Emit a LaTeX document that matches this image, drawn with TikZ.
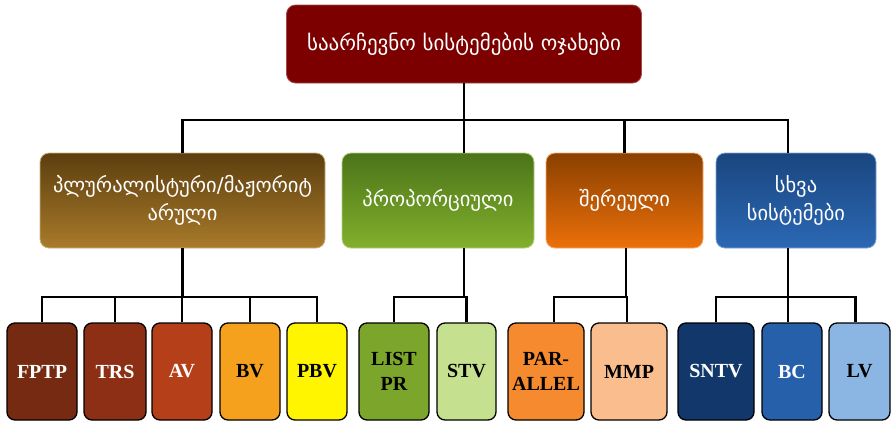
\documentclass[tikz,border=0pt]{standalone}
\usepackage{fontspec}
\setmainfont{Liberation Serif}
\newfontfamily\geofont{DejaVu Sans}
\usetikzlibrary{positioning}
\definecolor{famred}{HTML}{7C0000}
\definecolor{plurtop}{HTML}{5C3E0E}
\definecolor{plurbot}{HTML}{A97B2B}
\definecolor{proptop}{HTML}{4B7419}
\definecolor{propbot}{HTML}{82B02C}
\definecolor{mixtop}{HTML}{8A4000}
\definecolor{mixbot}{HTML}{EC700A}
\definecolor{othtop}{HTML}{1A467F}
\definecolor{othbot}{HTML}{2B68B4}
\definecolor{cfptp}{HTML}{772A12}
\definecolor{ctrs}{HTML}{8C2F15}
\definecolor{cav}{HTML}{B43F18}
\definecolor{cbv}{HTML}{F6A11E}
\definecolor{cpbv}{HTML}{FFF500}
\definecolor{clist}{HTML}{7CA52C}
\definecolor{cstv}{HTML}{C5E08E}
\definecolor{cpar}{HTML}{F58A2F}
\definecolor{cmmp}{HTML}{FABE8E}
\definecolor{csntv}{HTML}{12376A}
\definecolor{cbc}{HTML}{2660AB}
\definecolor{clv}{HTML}{8BB5E3}
\tikzset{topblock/.style={fill=famred,draw=famred!70!white,line width=0.8pt,rounded corners=9pt,
           minimum width=355pt,minimum height=78pt,text=white,font=\geofont\fontsize{21}{25}\selectfont},
         famblock/.style={rounded corners=9pt,line width=0.8pt,minimum height=95pt,text=white,
           align=center,font=\geofont\fontsize{20.5}{28}\selectfont},
         leaf/.style={draw=black,line width=1.3pt,rounded corners=8pt,minimum height=97pt,
           align=center,font=\bfseries\fontsize{20}{25}\selectfont},
         line/.style={line width=2.2pt,black}
}
\begin{document}
\begin{tikzpicture}[x=1pt,y=-1pt]
\useasboundingbox (0,0) rectangle (892,421);

\node[topblock] (fam) at (464,44) {საარჩევნო სისტემების ოჯახები};

\node[famblock,top color=plurtop,bottom color=plurbot,draw=plurbot!60!white,minimum width=285pt] (plural) at (182.5,200.5) {პლურალისტური/მაჟორიტ\\არული};
\node[famblock,top color=proptop,bottom color=propbot,draw=propbot!60!white,minimum width=192pt] (propor) at (438,200.5) {პროპორციული};
\node[famblock,top color=mixtop,bottom color=mixbot,draw=mixbot!60!white,minimum width=157pt] (mixed) at (624.5,200.5) {შერეული};
\node[famblock,top color=othtop,bottom color=othbot,draw=othbot!60!white,minimum width=160pt] (other) at (796,200.5) {სხვა\\სისტემები};

\node[leaf,fill=cfptp,text=white,minimum width=70pt] (fptp) at (42,371.5) {FPTP};
\node[leaf,fill=ctrs,text=white,minimum width=62pt] (trs) at (115,371.5) {TRS};
\node[leaf,fill=cav,text=white,minimum width=60pt] (av) at (182,371.5) {AV};
\node[leaf,fill=cbv,minimum width=60pt] (bv) at (250,371.5) {BV};
\node[leaf,fill=cpbv,minimum width=60pt] (pbv) at (317,371.5) {PBV};
\node[leaf,fill=clist,minimum width=70pt] (listpr) at (394,371.5) {LIST\\PR};
\node[leaf,fill=cstv,minimum width=59pt] (stv) at (466.5,371.5) {STV};
\node[leaf,fill=cpar,minimum width=76pt] (parallel) at (546,371.5) {PAR-\\ALLEL};
\node[leaf,fill=cmmp,minimum width=76pt] (mmp) at (629,371.5) {MMP};
\node[leaf,fill=csntv,text=white,minimum width=76pt] (sntv) at (716,371.5) {SNTV};
\node[leaf,fill=cbc,text=white,minimum width=60pt] (bc) at (792,371.5) {BC};
\node[leaf,fill=clv,minimum width=61pt] (lv) at (859.5,371.5) {LV};

% top level
\coordinate (hub) at (464,120);
\draw[line] (fam.south) -- (hub);
\draw[line] (plural.north) |- (hub);
\draw[line] (hub) -- (hub |- propor.north);
\draw[line] (hub) -| (mixed.north);
\draw[line] (hub) -| ([xshift=-8pt]other.north);

% family groups
\coordinate (barA) at (182.5,297);
\coordinate (barB) at (464,297);
\coordinate (barC) at (626,297);
\coordinate (barD) at (788,297);
\draw[line] (plural.south) -- (barA);
\draw[line] (hub |- propor.south) -- (barB);
\draw[line] (barC |- mixed.south) -- (barC);
\draw[line] (barD |- other.south) -- (barD);
\foreach \n in {fptp,trs,av,bv,pbv} \draw[line] (barA) -| (\n.north);
\foreach \n in {listpr,stv} \draw[line] (barB) -| (\n.north);
\draw[line] (barC) -| ([xshift=8pt]parallel.north);
\draw[line] (barC) -| ([xshift=-2pt]mmp.north);
\draw[line] (barD) -| (sntv.north);
\draw[line] (barD) -| ([xshift=-4pt]bc.north);
\draw[line] (barD) -| ([xshift=-4pt]lv.north);

\end{tikzpicture}
\end{document}
